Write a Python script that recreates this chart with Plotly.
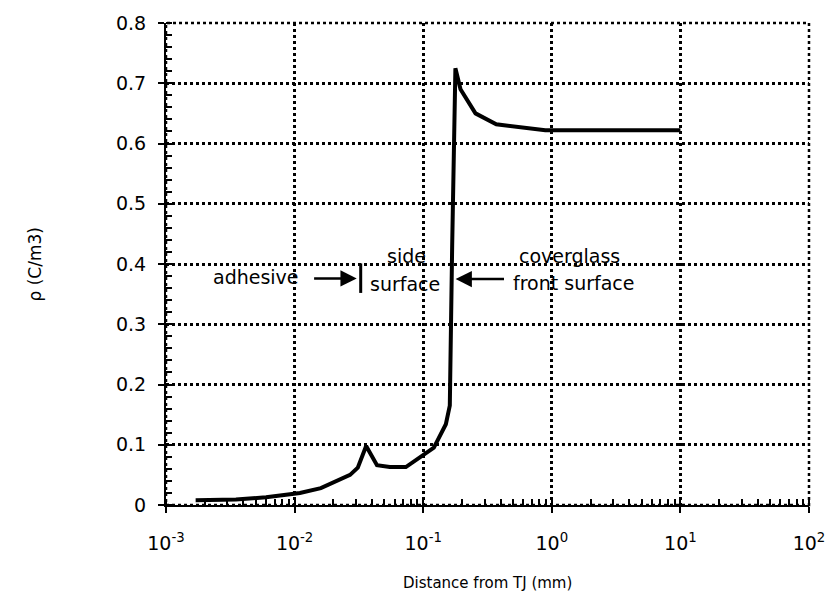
import plotly.graph_objects as go

# Space-charge density profile versus distance from the triple junction
distance_mm = [0.0017, 0.0035, 0.006, 0.011, 0.016, 0.022, 0.027, 0.031, 0.036,
               0.0437, 0.055, 0.0733, 0.098, 0.121, 0.150, 0.161, 0.168, 0.178,
               0.195, 0.255, 0.37, 0.435, 0.89, 10.0]
rho = [0.008, 0.009, 0.013, 0.020, 0.028, 0.041, 0.050, 0.062, 0.098,
       0.066, 0.063, 0.063, 0.082, 0.095, 0.134, 0.165, 0.43, 0.725,
       0.69, 0.65, 0.632, 0.630, 0.622, 0.622]

x_ticks = [1e-3, 1e-2, 1e-1, 1e0, 1e1, 1e2]
x_tick_labels = ["10<sup>-3</sup>", "10<sup>-2</sup>", "10<sup>-1</sup>",
                 "10<sup>0</sup>", "10<sup>1</sup>", "10<sup>2</sup>"]
y_ticks = [0, 0.1, 0.2, 0.3, 0.4, 0.5, 0.6, 0.7, 0.8]
y_tick_labels = ["0", "0.1", "0.2", "0.3", "0.4", "0.5", "0.6", "0.7", "0.8"]

FONT = "DejaVu Sans"

fig = go.Figure()
fig.add_trace(go.Scatter(
    x=distance_mm, y=rho, mode="lines",
    line=dict(color="black", width=4), showlegend=False,
))

grid = dict(showgrid=True, gridcolor="black", gridwidth=2.5, griddash="dot",
            zeroline=False, showline=True, linecolor="black", linewidth=2,
            ticks="outside", ticklen=6, tickcolor="black", tickwidth=2)

fig.update_xaxes(type="log", range=[-3, 2], tickvals=x_ticks, ticktext=x_tick_labels,
                 tickfont=dict(family=FONT, size=19, color="black"),
                 ticklabelstandoff=14,
                 minor=dict(ticks="inside", ticklen=6, tickcolor="black",
                            tickwidth=1.5, dtick="D1", showgrid=False),
                 **grid)
fig.update_yaxes(range=[0, 0.8], tickvals=y_ticks, ticktext=y_tick_labels,
                 tickfont=dict(family=FONT, size=19, color="black"),
                 ticklabelstandoff=8,
                 minor=dict(ticks="inside", ticklen=6, tickcolor="black",
                            tickwidth=1.5, dtick=0.02, showgrid=False),
                 **grid)

# dotted frame around the plotting area
fig.add_shape(type="rect", xref="paper", yref="paper", x0=0, y0=0, x1=1, y1=1,
              line=dict(color="black", width=2.5, dash="dot"), layer="above")

txt = dict(family=FONT, size=19, color="black")
notes = [
    ("adhesive", -2.30, 0.378),
    ("side", -1.13, 0.414),
    ("surface", -1.145, 0.367),
    ("coverglass", 0.135, 0.413),
    ("front surface", 0.17, 0.369),
]
for t, lx, ly in notes:
    fig.add_annotation(x=lx, y=ly, text=t, showarrow=False, font=txt,
                       xanchor="center", yanchor="middle")

# region arrows
fig.add_annotation(x=-1.517, y=0.376, ax=-1.86, ay=0.376, axref="x", ayref="y",
                   xref="x", yref="y", text="", showarrow=True,
                   arrowhead=2, arrowsize=1.3, arrowwidth=2.5, arrowcolor="black")
fig.add_annotation(x=-0.748, y=0.375, ax=-0.36, ay=0.375, axref="x", ayref="y",
                   xref="x", yref="y", text="", showarrow=True,
                   arrowhead=2, arrowsize=1.3, arrowwidth=2.5, arrowcolor="black")
fig.add_shape(type="line", xref="x", yref="y", x0=10 ** -1.486, x1=10 ** -1.486,
              y0=0.352, y1=0.401, line=dict(color="black", width=3))

# axis titles
fig.add_annotation(xref="paper", yref="paper", x=0.5, y=-0.162,
                   text="Distance from TJ (mm)", showarrow=False,
                   font=dict(family=FONT, size=15, color="black"),
                   xanchor="center", yanchor="middle")
fig.add_annotation(xref="paper", yref="paper", x=-0.203, y=0.5,
                   text="ρ (C/m3)", showarrow=False, textangle=-90,
                   font=dict(family=FONT, size=17, color="black"),
                   xanchor="center", yanchor="middle")

fig.update_layout(
    width=837, height=606,
    margin=dict(l=166, r=25, t=16, b=101),
    plot_bgcolor="white", paper_bgcolor="white",
)

fig.write_html("out.html")
